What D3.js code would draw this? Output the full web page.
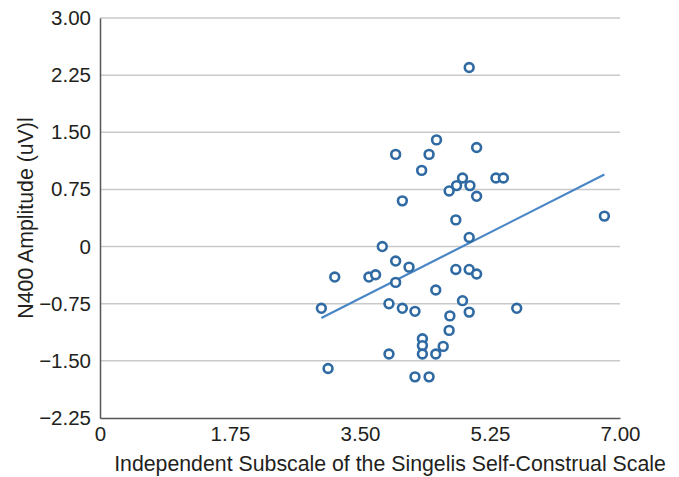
<!DOCTYPE html>
<html>
<head>
<meta charset="utf-8">
<script src="https://cdn.jsdelivr.net/npm/d3@7"></script>
<style>
  body { margin: 0; background: #fff; }
  text { font-family: "Liberation Sans", Arial, sans-serif; fill: #231f20; }
</style>
</head>
<body>
<div id="container"></div>
<script>
// Chart values
const xTicks = [0, 1.75, 3.5, 5.25, 7];
const yTicks = [-2.25, -1.5, -0.75, 0, 0.75, 1.5, 2.25, 3];
const xValues = [2.98, 3.07, 3.16, 3.62, 3.71, 3.80, 3.89, 3.89, 3.98, 3.98,
  3.98, 4.07, 4.07, 4.16, 4.24, 4.24, 4.33, 4.34, 4.34, 4.34,
  4.43, 4.43, 4.53, 4.52, 4.52, 4.62, 4.70, 4.71, 4.70, 4.79,
  4.80, 4.79, 4.88, 4.88, 4.97, 4.98, 4.97, 4.97, 4.97, 5.07,
  5.07, 5.07, 5.33, 5.43, 5.61, 6.79];
const yValues = [-0.81, -1.60, -0.40, -0.40, -0.37, 0.00, -0.75, -1.41, -0.19, -0.47,
  1.21, 0.60, -0.81, -0.27, -0.85, -1.71, 1.00, -1.21, -1.30, -1.41,
  1.21, -1.71, 1.40, -0.57, -1.41, -1.31, 0.73, -0.91, -1.10, 0.35,
  0.80, -0.30, 0.90, -0.71, 2.35, 0.80, 0.12, -0.30, -0.86, 1.30,
  0.66, -0.36, 0.90, 0.90, -0.81, 0.40];
const xTitle = "Independent Subscale of the Singelis Self-Construal Scale";
const yTitle = "N400 Amplitude (uV)l";

const width = 679;
const height = 477;
const marginTop = 18;
const marginLeft = 100;
const plotRight = 620;
const plotBottom = 418;

const x = d3.scaleLinear().domain([0, 7]).range([marginLeft, plotRight]);
const y = d3.scaleLinear().domain([-2.25, 3]).range([plotBottom, marginTop]);

const fmt = d => (d === 0 ? "0" : d3.format(".2f")(d).replace("-", "\u2212"));

const svg = d3.select("#container").append("svg")
  .attr("width", width)
  .attr("height", height);

// horizontal gridlines
svg.append("g")
  .selectAll("line")
  .data(yTicks.filter(d => d !== -2.25))
  .join("line")
  .attr("x1", marginLeft)
  .attr("x2", plotRight)
  .attr("y1", d => y(d))
  .attr("y2", d => y(d))
  .attr("stroke", "#c9c9c9")
  .attr("stroke-width", 1.5);

// y axis
const yAxis = svg.append("g")
  .attr("transform", `translate(${marginLeft},0)`)
  .call(d3.axisLeft(y).tickValues(yTicks).tickSize(0).tickPadding(9).tickFormat(fmt));
yAxis.select(".domain").attr("stroke", "#555").attr("stroke-width", 1.5);
yAxis.selectAll("text").style("font-size", "20.5px").attr("fill", "#231f20");

// x axis
const xAxis = svg.append("g")
  .attr("transform", `translate(0,${plotBottom})`)
  .call(d3.axisBottom(x).tickValues(xTicks).tickSize(0).tickPadding(8).tickFormat(fmt));
xAxis.select(".domain").attr("stroke", "#555").attr("stroke-width", 1.5);
xAxis.selectAll("text").style("font-size", "20.5px").attr("fill", "#231f20");

// axis titles
svg.append("text")
  .attr("x", 390)
  .attr("y", 471)
  .attr("text-anchor", "middle")
  .style("font-size", "21.3px")
  .text(xTitle);

svg.append("text")
  .attr("transform", `translate(33,${(marginTop + plotBottom) / 2}) rotate(-90)`)
  .attr("text-anchor", "middle")
  .style("font-size", "21.3px")
  .text(yTitle);

// linear trend (least squares)
const mx = d3.mean(xValues);
const my = d3.mean(yValues);
const sxy = d3.sum(xValues, (d, i) => (d - mx) * (yValues[i] - my));
const sxx = d3.sum(xValues, d => (d - mx) * (d - mx));
const slope = sxy / sxx;
const intercept = my - slope * mx;
const [xMin, xMax] = d3.extent(xValues);

svg.append("line")
  .attr("x1", x(xMin))
  .attr("y1", y(intercept + slope * xMin))
  .attr("x2", x(xMax))
  .attr("y2", y(intercept + slope * xMax))
  .attr("stroke", "#4a86c6")
  .attr("stroke-width", 2.2);

// points
svg.append("g")
  .selectAll("circle")
  .data(xValues.map((d, i) => [d, yValues[i]]))
  .join("circle")
  .attr("cx", d => x(d[0]))
  .attr("cy", d => y(d[1]))
  .attr("r", 4.4)
  .attr("fill", "#fff")
  .attr("stroke", "#2f6aa3")
  .attr("stroke-width", 2.6);
</script>
</body>
</html>
